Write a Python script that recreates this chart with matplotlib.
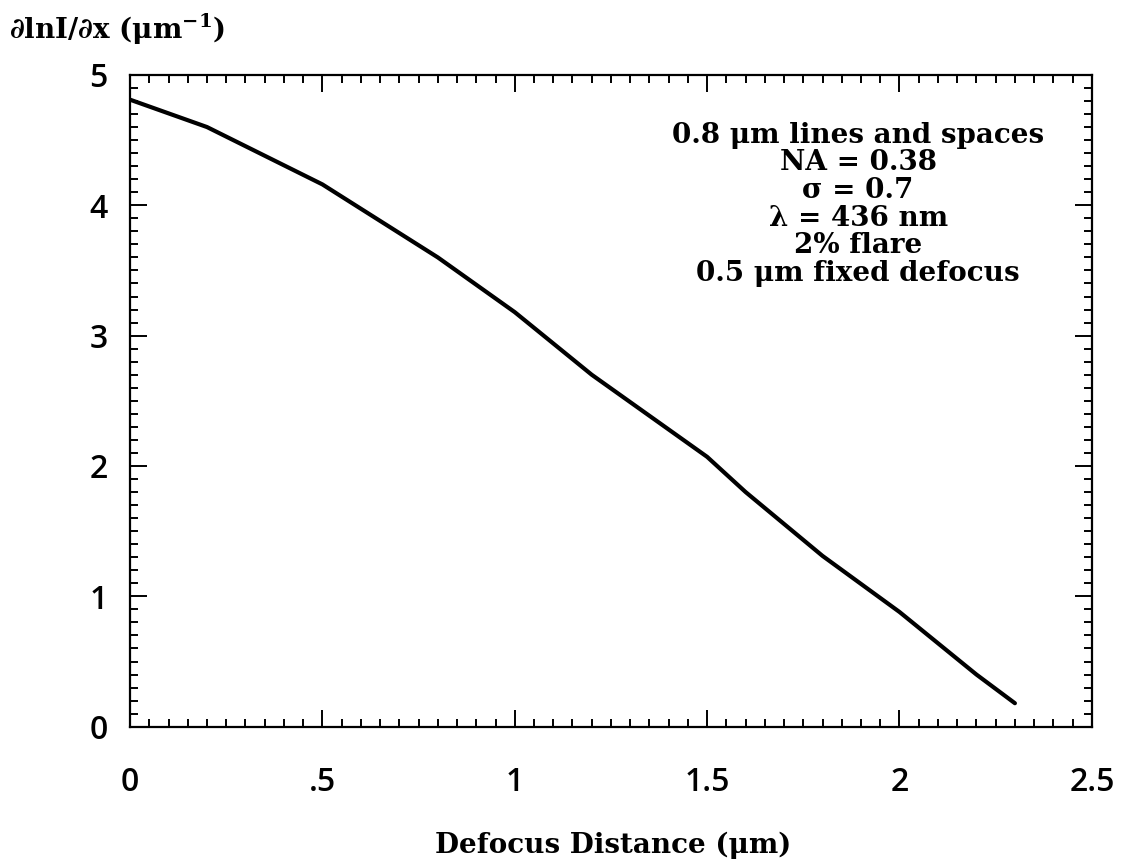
import matplotlib
matplotlib.use("Agg")
import matplotlib.pyplot as plt
from matplotlib.ticker import MultipleLocator

# Data
defocus_um = [0.0, 0.2, 0.5, 0.8, 1.0, 1.2, 1.4, 1.5, 1.6, 1.8, 2.0, 2.2, 2.3]
dlnI_dx = [4.81, 4.60, 4.16, 3.60, 3.18, 2.70, 2.28, 2.07, 1.80, 1.31, 0.88, 0.40, 0.18]

x_ticks = [0, 0.5, 1, 1.5, 2, 2.5]
x_tick_labels = ["0", ".5", "1", "1.5", "2", "2.5"]
y_ticks = [0, 1, 2, 3, 4, 5]

annotation_lines = [
    "0.8 μm lines and spaces",
    "NA = 0.38",
    "σ = 0.7",
    "λ = 436 nm",
    "2% flare",
    "0.5 μm fixed defocus",
]

serif = "DejaVu Serif"
sans = "Open Sans"

fig = plt.figure(figsize=(11.21, 8.61), dpi=100)
ax = fig.add_axes([0.116, 0.156, 0.858, 0.757])

ax.plot(defocus_um, dlnI_dx, color="black", linewidth=3.0, solid_capstyle="round")

ax.set_xlim(0, 2.5)
ax.set_ylim(0, 5)
ax.set_xticks(x_ticks)
ax.set_xticklabels(x_tick_labels)
ax.set_yticks(y_ticks)
ax.xaxis.set_minor_locator(MultipleLocator(0.05))
ax.yaxis.set_minor_locator(MultipleLocator(0.1))

for s in ax.spines.values():
    s.set_linewidth(1.6)

ax.tick_params(which="both", direction="in", top=True, right=True, width=1.4, colors="black")
ax.tick_params(which="major", length=12)
ax.tick_params(which="minor", length=6)
ax.tick_params(axis="x", which="major", pad=28, labelsize=23)
ax.tick_params(axis="y", which="major", pad=16, labelsize=23)
for lab in ax.get_xticklabels() + ax.get_yticklabels():
    lab.set_fontfamily(sans)
    lab.set_fontweight("semibold")

ax.text(0.757, 0.928, "\n".join(annotation_lines), transform=ax.transAxes,
        ha="center", va="top", fontsize=20, fontweight="bold",
        family=serif, linespacing=1.03)

fig.text(0.008, 0.966, r"∂lnI/∂x (μm$^{\mathregular{-1}}$)", ha="left", va="center",
         fontsize=20, fontweight="bold", family=serif)
fig.text(0.547, 0.018, "Defocus Distance (μm)", ha="center", va="center",
         fontsize=20, fontweight="bold", family=serif)

fig.savefig("out.png", dpi=100)
